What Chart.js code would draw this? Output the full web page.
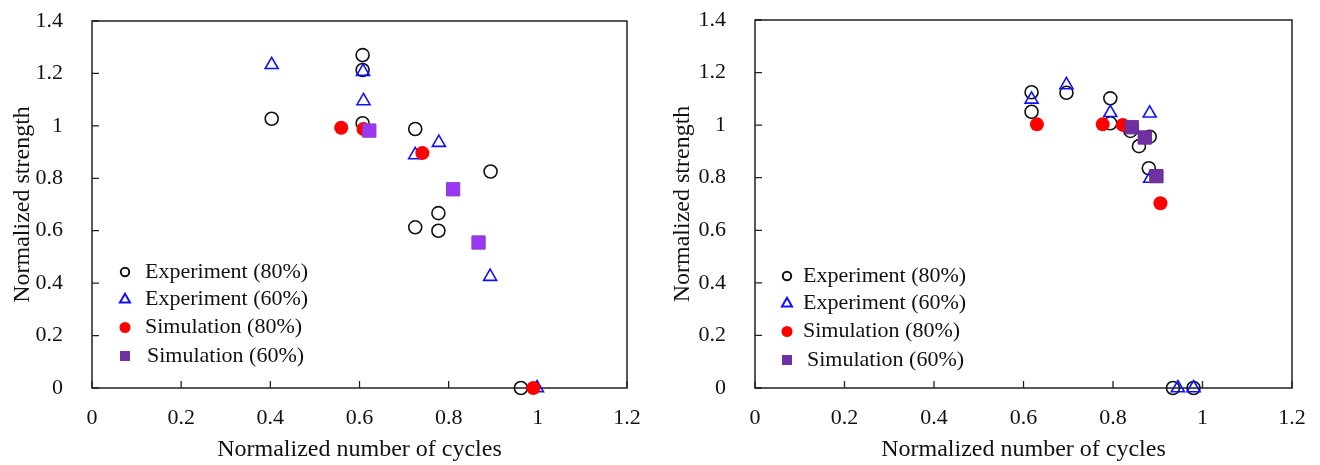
<!DOCTYPE html>
<html><head><meta charset="utf-8">
<script src="https://cdn.jsdelivr.net/npm/chart.js@4.4.0/dist/chart.umd.min.js"></script>
<style>
html,body{margin:0;padding:0;background:#fff;overflow:hidden;width:1320px;height:465px}
.w{position:absolute;top:0;width:660px;height:465px}
canvas{display:block}
</style>
</head><body>
<div class="w" style="left:0"><canvas id="c1" width="660" height="465"></canvas></div>
<div class="w" style="left:660px"><canvas id="c2" width="660" height="465"></canvas></div>
<script>
// ---- Data ----
const xTicks = [0, 0.2, 0.4, 0.6, 0.8, 1, 1.2];
const yTicks = [0, 0.2, 0.4, 0.6, 0.8, 1, 1.2, 1.4];
const xTitle = 'Normalized number of cycles';
const yTitle = 'Normalized strength';
const seriesNames = ['Experiment (80%)', 'Experiment (60%)', 'Simulation (80%)', 'Simulation (60%)'];

// Left panel
const leftExp80X = [0.403, 0.607, 0.607, 0.607, 0.725, 0.894, 0.777, 0.725, 0.777, 0.962];
const leftExp80Y = [1.027, 1.270, 1.213, 1.010, 0.988, 0.826, 0.667, 0.613, 0.600, 0];
const leftExp60X = [0.403, 0.608, 0.609, 0.778, 0.725, 0.893, 0.998];
const leftExp60Y = [1.233, 1.207, 1.095, 0.936, 0.889, 0.425, 0];
const leftSim80X = [0.559, 0.609, 0.741, 0.990];
const leftSim80Y = [0.993, 0.988, 0.896, 0];
const leftSim60X = [0.622, 0.810, 0.867];
const leftSim60Y = [0.982, 0.758, 0.555];

// Right panel
const rightExp80X = [0.618, 0.618, 0.696, 0.794, 0.794, 0.839, 0.882, 0.858, 0.880, 0.934, 0.980];
const rightExp80Y = [1.125, 1.051, 1.123, 1.102, 1.007, 0.978, 0.956, 0.920, 0.836, 0, 0];
const rightExp60X = [0.618, 0.696, 0.794, 0.882, 0.883, 0.945, 0.980];
const rightExp60Y = [1.098, 1.153, 1.047, 1.045, 0.797, 0, 0];
const rightSim80X = [0.630, 0.777, 0.822, 0.906];
const rightSim80Y = [1.003, 1.003, 1.001, 0.703];
const rightSim60X = [0.842, 0.871, 0.897];
const rightSim60Y = [0.992, 0.953, 0.806];

// ---- helpers ----
const pts = (xs, ys) => xs.map((x, i) => ({x: x, y: ys[i]}));
const FONT = '"Liberation Serif", "Times New Roman", serif';

function makeDatasets(e80x, e80y, e60x, e60y, s80x, s80y, s60x, s60y, sqFill, sqBorder) {
  return [
    {label: seriesNames[0], data: pts(e80x, e80y), pointStyle: 'circle', pointRadius: 6.5,
     backgroundColor: 'rgba(0,0,0,0)', borderColor: '#111', borderWidth: 1.6, order: 4, clip: false,
     legendMarker: {type: 'circle', r: 4.2, fill: null, stroke: '#111', lw: 2}},
    {label: seriesNames[1], data: pts(e60x, e60y), pointStyle: 'triangle', pointRadius: 7.5,
     backgroundColor: 'rgba(0,0,0,0)', borderColor: '#1010ff', borderWidth: 1.6, order: 3, clip: false,
     legendMarker: {type: 'triangle', r: 5.8, fill: null, stroke: '#1010ff', lw: 2}},
    {label: seriesNames[2], data: pts(s80x, s80y), pointStyle: 'circle', pointRadius: 7,
     backgroundColor: '#ff0000', borderColor: '#ff0000', borderWidth: 0, order: 2, clip: false,
     legendMarker: {type: 'circle', r: 5.5, fill: '#ff0000', stroke: null, lw: 0}},
    {label: seriesNames[3], data: pts(s60x, s60y), pointStyle: 'rect', pointRadius: 9.4,
     backgroundColor: sqFill, borderColor: sqBorder, borderWidth: 1, order: 1, clip: false,
     legendMarker: {type: 'rect', r: 5, fill: '#7030a0', stroke: null, lw: 0}}
  ];
}

const framePlugin = {
  id: 'frame',
  beforeDatasetsDraw(chart) {
    const {ctx, chartArea: a, scales} = chart;
    ctx.save();
    ctx.strokeStyle = '#222';
    ctx.lineWidth = 1.5;
    ctx.strokeRect(a.left, a.top, a.right - a.left, a.bottom - a.top);
    const tl = 7;
    ctx.lineWidth = 1.3;
    ctx.beginPath();
    scales.x.ticks.forEach(t => {
      const px = scales.x.getPixelForValue(t.value);
      ctx.moveTo(px, a.bottom); ctx.lineTo(px, a.bottom - tl);
    });
    scales.y.ticks.forEach(t => {
      const py = scales.y.getPixelForValue(t.value);
      ctx.moveTo(a.left, py); ctx.lineTo(a.left + tl, py);
    });
    ctx.stroke();
    ctx.restore();
  }
};

function drawMarker(ctx, m, x, y) {
  ctx.save();
  ctx.beginPath();
  if (m.type === 'circle') {
    ctx.arc(x, y, m.r, 0, Math.PI * 2);
  } else if (m.type === 'triangle') {
    const r = m.r;
    ctx.moveTo(x, y - r);
    ctx.lineTo(x + r * Math.sin(2 * Math.PI / 3), y + r / 2);
    ctx.lineTo(x - r * Math.sin(2 * Math.PI / 3), y + r / 2);
    ctx.closePath();
  } else {
    ctx.rect(x - m.r, y - m.r, 2 * m.r, 2 * m.r);
  }
  if (m.fill) { ctx.fillStyle = m.fill; ctx.fill(); }
  if (m.stroke) { ctx.strokeStyle = m.stroke; ctx.lineWidth = m.lw; ctx.stroke(); }
  ctx.restore();
}

const legendPlugin = {
  id: 'innerLegend',
  afterDatasetsDraw(chart, args, opts) {
    const {ctx} = chart;
    ctx.save();
    ctx.font = '22px ' + FONT;
    ctx.fillStyle = '#111';
    ctx.textBaseline = 'middle';
    ctx.textAlign = 'left';
    chart.data.datasets.forEach((ds, i) => {
      const y = opts.ys[i];
      drawMarker(ctx, ds.legendMarker, opts.markerX, y);
      ctx.fillText(ds.label, opts.textX[i], y);
    });
    ctx.restore();
  }
};

function makeChart(id, datasets, geo) {
  return new Chart(document.getElementById(id), {
    type: 'scatter',
    data: {datasets: datasets},
    plugins: [framePlugin, legendPlugin],
    options: {
      responsive: false,
      animation: false,
      devicePixelRatio: 1,
      layout: {autoPadding: false, padding: {left: 0, top: geo.top, right: geo.right, bottom: 0}},
      plugins: {
        legend: {display: false},
        tooltip: {enabled: false},
        innerLegend: geo.legend
      },
      scales: {
        x: {
          type: 'linear', min: 0, max: 1.2,
          afterBuildTicks: s => { s.ticks = xTicks.map(v => ({value: v})); },
          afterFit: s => { s.height = 465 - geo.bottom; s.paddingLeft = 0; s.paddingRight = 0; },
          grid: {display: false},
          border: {display: false},
          ticks: {padding: 9, color: '#111', font: {family: FONT, size: 22},
                  callback: v => String(+(+v).toFixed(1))},
          title: {display: true, text: xTitle, color: '#111', font: {family: FONT, size: 24},
                  padding: {top: 0, bottom: 1}}
        },
        y: {
          type: 'linear', min: 0, max: 1.4,
          afterBuildTicks: s => { s.ticks = yTicks.map(v => ({value: v})); },
          afterFit: s => { s.width = geo.left; s.paddingTop = 0; s.paddingBottom = 0; },
          grid: {display: false},
          border: {display: false},
          ticks: {padding: 21, color: '#111', font: {family: FONT, size: 22},
                  callback: v => String(+(+v).toFixed(1))},
          title: {display: true, text: yTitle, color: '#111', font: {family: FONT, size: 24},
                  padding: {top: 8, bottom: 0}}
        }
      }
    }
  });
}

makeChart('c1',
  makeDatasets(leftExp80X, leftExp80Y, leftExp60X, leftExp60Y, leftSim80X, leftSim80Y, leftSim60X, leftSim60Y, '#9b36f5', '#8a40c8'),
  {left: 92, top: 21, right: 33, bottom: 388,
   legend: {markerX: 125, textX: [145, 145, 145, 147], ys: [272, 299.5, 327.5, 356]}});

makeChart('c2',
  makeDatasets(rightExp80X, rightExp80Y, rightExp60X, rightExp60Y, rightSim80X, rightSim80Y, rightSim60X, rightSim60Y, '#7030a0', '#6a2e96'),
  {left: 95, top: 20, right: 28, bottom: 388,
   legend: {markerX: 127, textX: [143, 143, 143, 147], ys: [276, 303.5, 331.5, 360]}});
</script>
</body></html>
